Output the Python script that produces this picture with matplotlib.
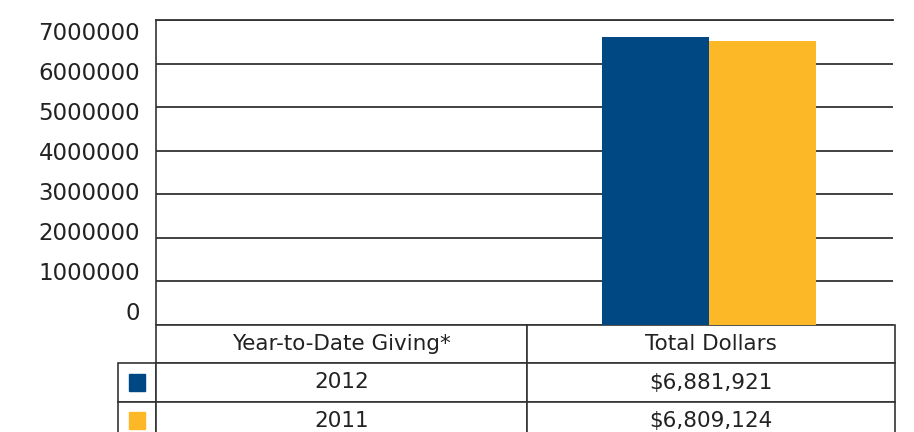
import numpy as np
import matplotlib
matplotlib.use("Agg")
import matplotlib.pyplot as plt
from matplotlib.patches import Rectangle

# data (the sheet had the year in the first column, so it got plotted too)
categories = ["Year-to-Date Giving*", "Total Dollars"]
series_names = ["2012", "2011"]
values_2012 = [2012, 6881921]
values_2011 = [2011, 6809124]
total_labels = ["$6,881,921", "$6,809,124"]
colors = ["#004883", "#FDB827"]
ytick_values = [0, 1000000, 2000000, 3000000, 4000000, 5000000, 6000000, 7000000]

W, H = 914, 432
fig = plt.figure(figsize=(W / 100, H / 100), dpi=100)

def fx(px):
    return px / W

def fy(px):
    return (H - px) / H

# plot area: x 156..893, y 20..325 (pixels)
ax = fig.add_axes([fx(156), fy(325), fx(893) - fx(156), fy(20) - fy(325)])
ymax = 7.3e6
x = np.arange(len(categories))
bw = 0.29
ax.bar(x - bw / 2, values_2012, bw, color=colors[0], zorder=3)
ax.bar(x + bw / 2, values_2011, bw, color=colors[1], zorder=3)
ax.set_xlim(-0.5, 1.5)
ax.set_ylim(0, ymax)
ax.set_xticks([])
ax.set_yticks(np.linspace(0, ymax, 8))
ax.set_yticklabels([])
ax.tick_params(axis="y", length=0)
ax.grid(axis="y", color="#333333", lw=1.3, zorder=1)
for s in ["right", "bottom"]:
    ax.spines[s].set_visible(False)
ax.spines["left"].set_color("#333333")
ax.spines["top"].set_color("#333333")
ax.spines["left"].set_linewidth(1.2)
ax.spines["top"].set_linewidth(1.3)

# y labels sit on their own scale (0 at y=311, 7M at y=31)
lab = fig.add_axes([fx(156), fy(311), 0.001, fy(31) - fy(311)])
lab.set_frame_on(False)
lab.set_xticks([])
lab.set_ylim(0, 7000000)
lab.set_yticks(ytick_values)
lab.set_yticklabels([str(v) for v in ytick_values])
lab.tick_params(axis="y", length=0, pad=11.5, labelsize=16.5, labelcolor="#222222")

# table underneath
rows = [["", categories[0], categories[1]],
        ["", series_names[0], total_labels[0]],
        ["", series_names[1], total_labels[1]]]
aw = 893 - 156
ah = 325 - 20
tx0 = (118 - 156) / aw
tw = (895 - 118) / aw
th = 115 / ah
tab = ax.table(cellText=rows, colWidths=[38, 371, 368], cellLoc="center",
               bbox=[tx0, -th, tw, th])
tab.auto_set_font_size(False)
for (r, c), cell in tab.get_celld().items():
    cell.set_edgecolor("#333333")
    cell.set_linewidth(1.2)
    cell.get_text().set_fontsize(15.5)
    cell.get_text().set_color("#222222")
    cell.set_clip_on(False)
tab[0, 0].visible_edges = "open"

# legend keys in the first column
rh = th / 3
sq_w = 16 / aw
sq_h = 17 / ah
cx = tx0 + (38 / 777) * tw / 2
for i, col in enumerate(colors):
    cy = -rh * (i + 1.5)
    ax.add_patch(Rectangle((cx - sq_w / 2, cy - sq_h / 2), sq_w, sq_h,
                           transform=ax.transAxes, color=col, clip_on=False, zorder=5))

fig.savefig("out.png", dpi=100)
